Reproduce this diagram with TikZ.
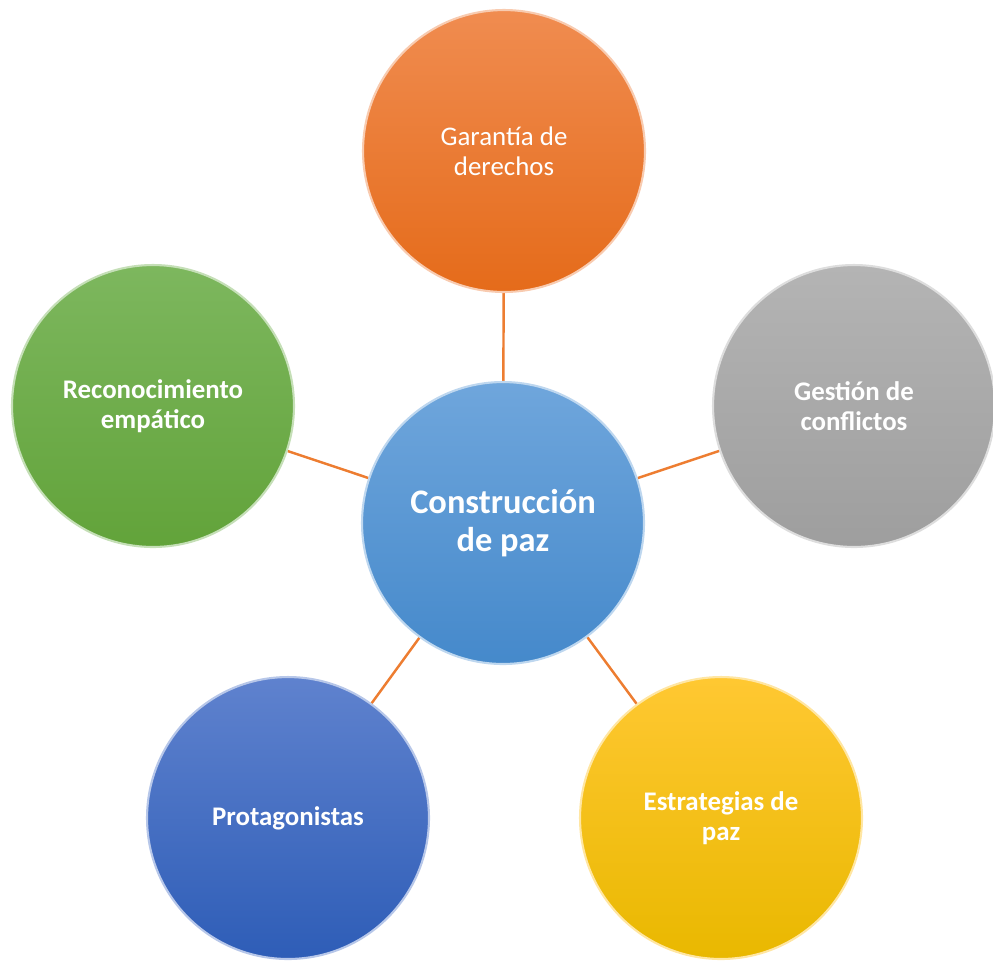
\documentclass[tikz,border=0pt]{standalone}
\usepackage{fontspec}
\setmainfont{Carlito}
\usetikzlibrary{backgrounds}
\definecolor{linkorange}{HTML}{ED7D31}
\definecolor{pazTop}{HTML}{6FA6DC}
\definecolor{pazBot}{HTML}{4589CB}
\definecolor{orangeTop}{HTML}{F08C50}
\definecolor{orangeBot}{HTML}{E56B1A}
\definecolor{greenTop}{HTML}{7DB75E}
\definecolor{greenBot}{HTML}{62A33A}
\definecolor{grayTop}{HTML}{B4B4B4}
\definecolor{grayBot}{HTML}{9E9E9E}
\definecolor{blueTop}{HTML}{5F82CE}
\definecolor{blueBot}{HTML}{2E5DB7}
\definecolor{yellowTop}{HTML}{FFC832}
\definecolor{yellowBot}{HTML}{E9B800}
\tikzset{
  bubble/.style n args={2}{circle, minimum size=5.64cm, inner sep=0pt, align=center,
    top color=#1, bottom color=#2, draw=#1!45!white, line width=1.2pt,
    text=white, font=\fontsize{15.3}{16.8}\selectfont\bfseries},
  hub/.style={font=\fontsize{19.6}{21.5}\selectfont\bfseries},
  link/.style={draw=linkorange, line width=1.4pt}
}
\begin{document}
\begin{tikzpicture}[x=0.02cm, y=-0.02cm]
		%%%%% START %%%%%
		\useasboundingbox (0, 0) rectangle (993, 961);
		
		\node[bubble={pazTop}{pazBot}, hub] (paz) at (503, 523) {Construcción\\de paz};
		
		\node[bubble={orangeTop}{orangeBot}, font=\fontsize{15.3}{16.8}\selectfont] (garantia) at (504, 151) {Garantía de\\derechos};
		\node[bubble={greenTop}{greenBot}] (reconoc) at (153, 406) {Reconocimiento\\empático};
		\node[bubble={grayTop}{grayBot}] (gestion) at (854, 406) {Gestión de\\conflictos};
		\node[bubble={blueTop}{blueBot}] (protag) at (288, 818) {Protagonistas};
		\node[bubble={yellowTop}{yellowBot}] (estrat) at (721, 818) {Estrategias de\\paz};
		
		\begin{scope}[on background layer]
		\draw[link] (paz) -- (garantia);
		\draw[link] (paz) -- (reconoc);
		\draw[link] (paz) -- (gestion);
		\draw[link] (paz) -- (protag);
		\draw[link] (paz) -- (estrat);
		\end{scope}
		
		%%%%% END %%%%%
\end{tikzpicture}
\end{document}
